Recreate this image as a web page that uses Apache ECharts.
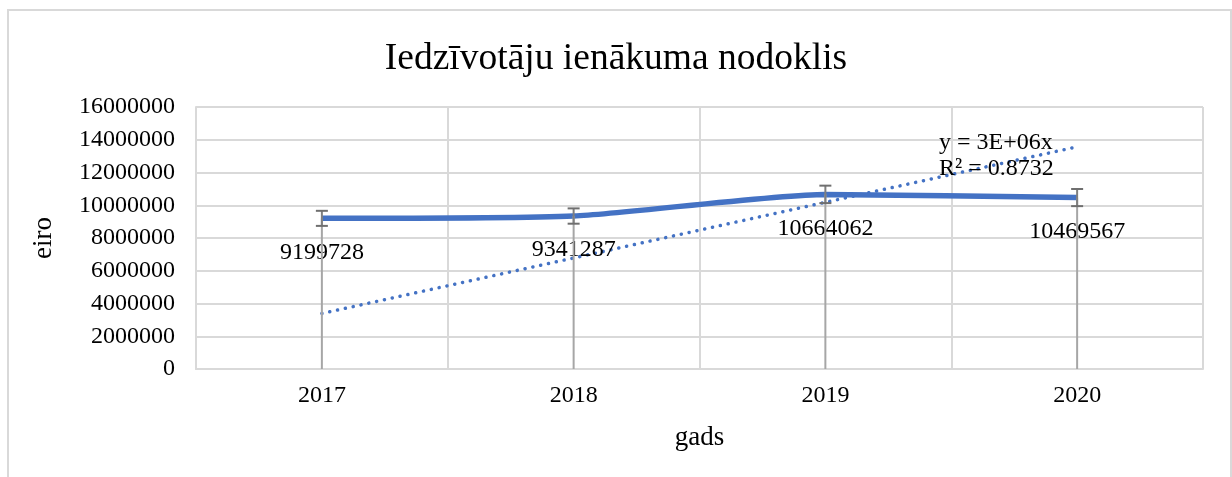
<!DOCTYPE html>
<html>
<head>
<meta charset="utf-8">
<script src="https://cdn.jsdelivr.net/npm/echarts@6/dist/echarts.min.js"></script>
<style>
html,body{margin:0;padding:0;background:#fff;}
#chart{width:1232px;height:477px;}
</style>
</head>
<body>
<div id="chart"></div>
<script>
var categories = ['2017', '2018', '2019', '2020'];
var values = [9199728, 9341287, 10664062, 10469567];
var trendValues = [3390000, 6780000, 10180000, 13570000];
var errorPercent = 0.05;
var yTicks = { min: 0, max: 16000000, interval: 2000000 };
var titleText = 'Iedzīvotāju ienākuma nodoklis';
var yName = 'eiro';
var xName = 'gads';
var equationLines = ['y = 3E+06x', 'R² = 0.8732'];

var FONT = "'Liberation Serif', 'Times New Roman', serif";
var chart = echarts.init(document.getElementById('chart'), null, {renderer: 'canvas'});

var option = {
  animation: false,
  backgroundColor: '#ffffff',
  title: {
    text: titleText,
    left: 'center',
    top: 34,
    textStyle: { fontFamily: FONT, fontSize: 37.5, fontWeight: 'normal', color: '#000', lineHeight: 40 }
  },
  grid: { left: 196, right: 29, top: 107, bottom: 108 },
  xAxis: {
    type: 'category',
    data: categories,
    boundaryGap: true,
    name: xName,
    nameLocation: 'middle',
    nameGap: 55,
    nameTextStyle: { fontFamily: FONT, fontSize: 27, color: '#000' },
    axisLine: { show: true, lineStyle: { color: '#d9d9d9', width: 2 } },
    axisTick: { show: false },
    axisLabel: { fontFamily: FONT, fontSize: 24, color: '#000', margin: 15 },
    splitLine: { show: true, lineStyle: { color: '#d9d9d9', width: 2 } }
  },
  yAxis: {
    type: 'value',
    min: yTicks.min, max: yTicks.max, interval: yTicks.interval,
    name: yName,
    nameLocation: 'middle',
    nameGap: 139,
    nameRotate: 90,
    nameTextStyle: { fontFamily: FONT, fontSize: 27, color: '#000' },
    axisLine: { show: true, lineStyle: { color: '#d9d9d9', width: 2 } },
    axisTick: { show: false },
    axisLabel: { fontFamily: FONT, fontSize: 24, color: '#000', margin: 21,
      formatter: function (v) { return String(v); } },
    splitLine: { show: true, lineStyle: { color: '#d9d9d9', width: 2 } }
  },
  graphic: [
    {
      type: 'rect',
      shape: { x: 8, y: 10, width: 1223, height: 480 },
      style: { fill: 'none', stroke: '#d9d9d9', lineWidth: 2 },
      silent: true, z: -10
    },
    {
      type: 'text',
      left: 939, top: 130,
      style: {
        text: equationLines.join('\n'),
        font: '24px ' + FONT,
        fill: '#000',
        lineHeight: 26
      },
      z: 100
    }
  ],
  series: [
    {
      name: 'Trend',
      type: 'line',
      data: trendValues,
      symbol: 'none',
      smooth: false,
      lineStyle: { color: '#4472C4', width: 3.5, type: [0.1, 7.9], cap: 'round' },
      z: 3
    },
    {
      name: 'Nodoklis',
      type: 'line',
      data: values,
      smooth: 0.2,
      showSymbol: true,
      symbol: 'circle',
      symbolSize: 0,
      itemStyle: { color: '#4472C4' },
      lineStyle: { color: '#4472C4', width: 5.5 },
      label: {
        show: true,
        position: 'bottom',
        distance: 22,
        fontFamily: FONT, fontSize: 24, color: '#000'
      },
      z: 4
    },
    {
      name: 'Bars',
      type: 'custom',
      data: values.map(function (v, i) { return [i, v]; }),
      renderItem: function (params, api) {
        var i = api.value(0), v = api.value(1);
        var p = api.coord([i, v]);
        var base = api.coord([i, 0]);
        var hi = api.coord([i, v * (1 + errorPercent)]);
        var lo = api.coord([i, v * (1 - errorPercent)]);
        var cap = 6;
        return {
          type: 'group',
          children: [
            { type: 'line', shape: { x1: p[0], y1: p[1], x2: base[0], y2: base[1] },
              style: { stroke: '#a6a6a6', lineWidth: 2 } },
            { type: 'line', shape: { x1: hi[0], y1: hi[1], x2: lo[0], y2: lo[1] },
              style: { stroke: '#7f7f7f', lineWidth: 2 } },
            { type: 'line', shape: { x1: hi[0] - cap, y1: hi[1], x2: hi[0] + cap, y2: hi[1] },
              style: { stroke: '#6f6f6f', lineWidth: 2 } },
            { type: 'line', shape: { x1: lo[0] - cap, y1: lo[1], x2: lo[0] + cap, y2: lo[1] },
              style: { stroke: '#6f6f6f', lineWidth: 2 } }
          ]
        };
      },
      z: 5
    }
  ]
};
chart.setOption(option);
</script>
</body>
</html>
